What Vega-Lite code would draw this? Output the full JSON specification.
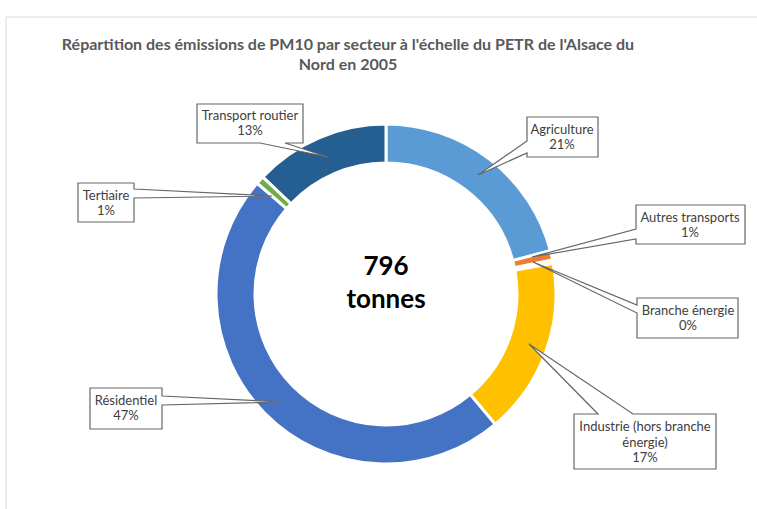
{
  "$schema": "https://vega.github.io/schema/vega-lite/v6.json",
  "width": 760,
  "height": 554,
  "autosize": {"type": "none"},
  "padding": {"left": 6, "top": 17, "right": 0, "bottom": 0},
  "background": "white",
  "config": {"view": {"stroke": null}, "font": "Lato"},
  "title": {
    "text": ["Répartition des émissions de PM10 par secteur à l'échelle  du PETR de l'Alsace du", "Nord en 2005"],
    "font": "Lato",
    "fontSize": 16,
    "fontWeight": "bold",
    "color": "#595959",
    "anchor": "middle",
    "offset": -56,
    "dx": -38,
    "lineHeight": 20
  },
  "data": {
    "values": [
      {"secteur": "Agriculture", "part": 0.209},
      {"secteur": "Autres transports", "part": 0.009},
      {"secteur": "Branche énergie", "part": 0.003},
      {"secteur": "Industrie (hors branche\nénergie)", "part": 0.168},
      {"secteur": "Résidentiel", "part": 0.474},
      {"secteur": "Tertiaire", "part": 0.008},
      {"secteur": "Transport routier", "part": 0.129}
    ]
  },
  "layer": [
    {
      "data": {"values": [{"cadre": 1}]},
      "mark": {"type": "rect", "fill": "transparent", "stroke": "#D9D9D9", "strokeWidth": 1},
      "encoding": {}
    },
    {
      "mark": {"type": "arc", "innerRadius": 131, "outerRadius": 170, "stroke": "white", "strokeWidth": 3},
      "encoding": {
        "theta": {"field": "part", "type": "quantitative", "stack": true},
        "order": {"field": "secteur", "type": "ordinal", "sort": "ascending"},
        "color": {
          "field": "secteur",
          "type": "nominal",
          "legend": null,
          "scale": {
            "domain": ["Agriculture", "Autres transports", "Branche énergie", "Industrie (hors branche\nénergie)", "Résidentiel", "Tertiaire", "Transport routier"],
            "range": ["#5B9BD5", "#ED7D31", "#A5A5A5", "#FFC000", "#4472C4", "#70AD47", "#255E91"]
          }
        }
      }
    },
    {
      "mark": {"type": "point", "filled": true, "fill": "white", "stroke": "#666666", "strokeWidth": 1.2, "opacity": 1, "fillOpacity": 1, "strokeOpacity": 1},
      "encoding": {
        "x": {
          "field": "part", "type": "quantitative", "axis": null,
          "scale": {"type": "linear", "zero": false, "nice": false,
            "domain": [0.003, 0.008, 0.009, 0.129, 0.168, 0.209, 0.474],
            "range": [681.5, 100, 684.5, 244, 639, 556.5, 120]}
        },
        "y": {
          "field": "part", "type": "quantitative", "axis": null,
          "scale": {"type": "linear", "zero": false, "nice": false,
            "domain": [0.003, 0.008, 0.009, 0.129, 0.168, 0.209, 0.474],
            "range": [301, 185.5, 207.5, 106.5, 424.5, 120, 391.5]}
        },
        "shape": {
          "field": "secteur", "type": "nominal", "legend": null,
          "scale": {
            "domain": ["Agriculture", "Autres transports", "Branche énergie", "Industrie (hors branche\nénergie)", "Résidentiel", "Tertiaire", "Transport routier"],
            "range": [
              "M-35.5,-20H35.5V20H-35.5V16L-84.5,38L-35.5,4Z",
              "M-54.5,-19.5H54.5V19.5H-54.5V14.5L-158.5,32.5L-54.5,4.5Z",
              "M-50.5,-20H50.5V20H-50.5V-5L-154.5,-56L-50.5,-13Z",
              "M-71,-27.5H-47L-116,-97.5L-12,-27.5H71V27.5H-71Z",
              "M-36,-20.5H36V-12.5L156,-6.5L36,-3.5V20.5H-36Z",
              "M-28,-19.5H28V-13.5L166,-6.5L28,-4.5V19.5H-28Z",
              "M-53,-19.5H53V19.5H35L78,33.5L10,19.5H-53Z"
            ]
          }
        },
        "size": {"value": 4}
      }
    },
    {
      "mark": {"type": "text", "font": "Lato", "fontSize": 13, "color": "#404040", "baseline": "bottom", "align": "center", "lineBreak": "\n", "lineHeight": 16, "dy": -1},
      "encoding": {
        "theta": {
          "field": "part", "type": "quantitative", "stack": true,
          "scale": {"type": "linear", "zero": false, "nice": false,
            "domain": [0.1045, 0.2135, 0.2195, 0.305, 0.626, 0.867, 0.9355],
            "range": [0.8456, 1.3507, 1.6534, 2.0679, 4.2959, 5.0234, 5.6085]}
        },
        "radius": {
          "field": "part", "type": "quantitative",
          "scale": {"type": "linear", "zero": false, "nice": false,
            "domain": [0.003, 0.008, 0.009, 0.129, 0.168, 0.209, 0.474],
            "range": [303.0, 294.1, 311.5, 217.7, 294.7, 235.2, 284.3]}
        },
        "detail": {"field": "secteur", "type": "nominal"},
        "order": {"field": "secteur", "type": "ordinal", "sort": "ascending"},
        "text": {"field": "secteur", "type": "nominal"}
      }
    },
    {
      "mark": {"type": "text", "font": "Lato", "fontSize": 13, "color": "#404040", "baseline": "top", "align": "center", "dy": 1},
      "encoding": {
        "theta": {
          "field": "part", "type": "quantitative", "stack": true,
          "scale": {"type": "linear", "zero": false, "nice": false,
            "domain": [0.1045, 0.2135, 0.2195, 0.305, 0.626, 0.867, 0.9355],
            "range": [0.8456, 1.3507, 1.6534, 2.1171, 4.2959, 5.0234, 5.6085]}
        },
        "radius": {
          "field": "part", "type": "quantitative",
          "scale": {"type": "linear", "zero": false, "nice": false,
            "domain": [0.003, 0.008, 0.009, 0.129, 0.168, 0.209, 0.474],
            "range": [303.0, 294.1, 311.5, 217.7, 303.1, 235.2, 284.3]}
        },
        "detail": {"field": "secteur", "type": "nominal"},
        "order": {"field": "secteur", "type": "ordinal", "sort": "ascending"},
        "text": {"field": "part", "type": "quantitative", "format": ".0%"}
      }
    },
    {
      "data": {"values": [{"total": 796, "unite": "tonnes"}]},
      "mark": {"type": "text", "font": "Lato", "fontSize": 26, "fontWeight": "bold", "color": "#000000", "baseline": "middle", "align": "center", "dy": -27},
      "encoding": {"text": {"field": "total", "type": "quantitative", "format": "d"}}
    },
    {
      "data": {"values": [{"total": 796, "unite": "tonnes"}]},
      "mark": {"type": "text", "font": "Lato", "fontSize": 26, "fontWeight": "bold", "color": "#000000", "baseline": "middle", "align": "center", "dy": 6},
      "encoding": {"text": {"field": "unite", "type": "nominal"}}
    }
  ],
  "resolve": {"scale": {"theta": "independent", "radius": "independent"}}
}
